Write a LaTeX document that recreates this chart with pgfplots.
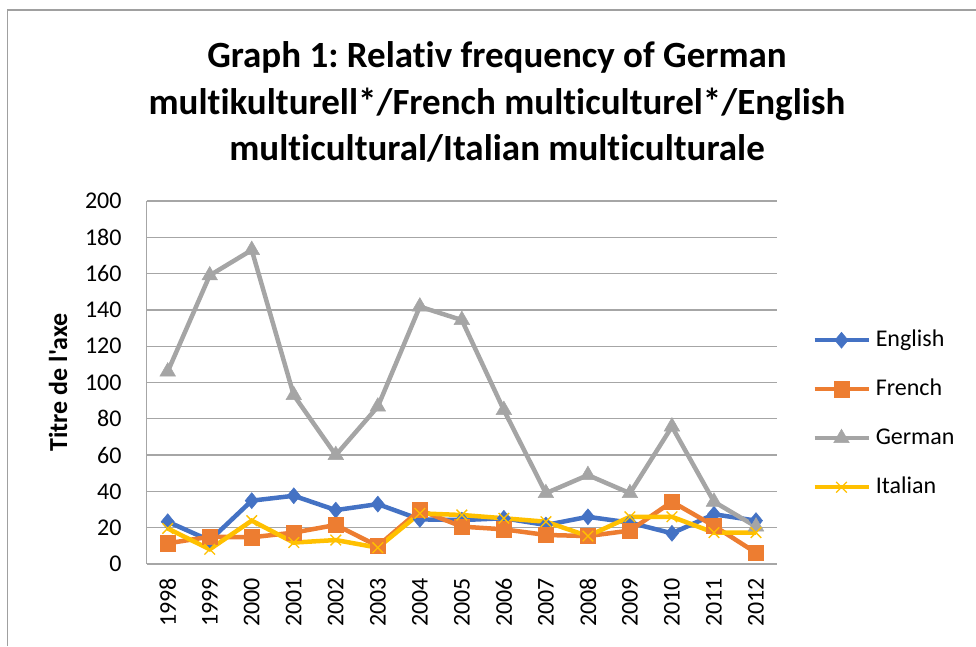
\documentclass[border=0pt]{standalone}
\usepackage{fontspec}
\setmainfont{Carlito}[Ligatures=NoCommon]
\newfontfamily\raw{Carlito}[Ligatures=NoCommon]
\usepackage{pgfplots}
\pgfplotsset{compat=1.18}
\definecolor{cEng}{HTML}{4472C4}
\definecolor{cFre}{HTML}{ED7D31}
\definecolor{cGer}{HTML}{A5A5A5}
\definecolor{cIta}{HTML}{FFC000}
\definecolor{gridgray}{HTML}{A6A6A6}
\definecolor{framegray}{HTML}{A0A0A0}
\frenchspacing
\begin{document}
\begin{tikzpicture}
\useasboundingbox (0pt,0pt) rectangle (976pt,646pt);
\draw[color=framegray, line width=1.2pt] (7.5pt,0pt) -- (7.5pt,636pt) -- (976pt,636pt);
\node[font=\bfseries\fontsize{37}{46.5}\selectfont, align=center, anchor=center] at (497pt,544pt) {Graph 1: Relativ frequency of German\\multikulturell*/French multiculturel*/English\\multicultural/Italian multiculturale};
\begin{axis}[
  at={(146.7pt,82pt)}, anchor=south west,
  scale only axis, width=630.3pt, height=363pt,
  xmin=-0.5, xmax=14.5, ymin=0, ymax=200,
  xtick={0,...,14},
  xticklabels={1998,1999,2000,2001,2002,2003,2004,2005,2006,2007,2008,2009,2010,2011,2012},
  ytick={0,20,...,200},
  /pgf/number format/assume math mode=true,
  tick label style={font=\fontsize{24}{29}\selectfont},
  xticklabel style={rotate=90, anchor=east, inner sep=0pt},
  yticklabel style={anchor=east, inner sep=0pt},
  xticklabel shift=14pt, yticklabel shift=25pt,
  major tick length=0pt,
  axis x line*=bottom, axis y line*=left,
  axis line style={draw=gridgray, line width=1.3pt},
  ymajorgrids, grid style={draw=gridgray, line width=1.3pt},
  ylabel={\raw\bfseries Titre de l'axe},
  ylabel style={font=\bfseries\fontsize{26}{31}\selectfont, at={(axis description cs:-0.1407,0.5)}, anchor=center},
  clip=false,
  legend style={at={(axis description cs:1.0556,0.414)}, anchor=west, draw=none, fill=none,
    font=\fontsize{24}{29}\selectfont, row sep=23pt, inner sep=0pt, column sep=3pt,
    nodes={inner sep=2pt, text height=17pt, text depth=5pt}},
  legend cell align=left,
  legend image code/.code={\draw[mark repeat=2,mark phase=2] plot coordinates {(0pt,0pt) (27pt,0pt) (54pt,0pt)};},
]
\addplot[color=cEng, line width=4.5pt, mark=diamond*, mark size=8pt, mark options={solid, line width=0.5pt, xscale=1.1}]
  coordinates {(0,23.3) (1,13) (2,34.9) (3,37.6) (4,29.7) (5,33) (6,24.6) (7,24.2) (8,25.2) (9,21.5) (10,26) (11,22.8) (12,16.9) (13,27.4) (14,23.9)};
\addlegendentry{English}
\addplot[color=cFre, line width=4.5pt, mark=square*, mark size=7.6pt, mark options={solid, line width=0.5pt}]
  coordinates {(0,11.4) (1,15) (2,14.7) (3,17.3) (4,21.5) (5,9.9) (6,29.7) (7,20.6) (8,19.1) (9,16) (10,15.4) (11,18.4) (12,34.3) (13,21) (14,6.2)};
\addlegendentry{French}
\addplot[color=cGer, line width=4.5pt, mark=triangle*, mark size=9pt, mark options={solid, line width=0.5pt}]
  coordinates {(0,106) (1,159) (2,173) (3,93) (4,60) (5,86.7) (6,141.8) (7,134.4) (8,84.8) (9,39) (10,49) (11,39) (12,75.7) (13,34.3) (14,20.6)};
\addlegendentry{German}
\addplot[color=cIta, line width=4.5pt, mark=x, mark size=7.5pt, mark options={solid, line width=1.3pt}]
  coordinates {(0,19.6) (1,8.1) (2,23.9) (3,11.8) (4,13.2) (5,9) (6,27.9) (7,27) (8,25.2) (9,23.3) (10,15.4) (11,26) (12,26) (13,17.3) (14,17.3)};
\addlegendentry{Italian}
\end{axis}
\end{tikzpicture}
\end{document}
